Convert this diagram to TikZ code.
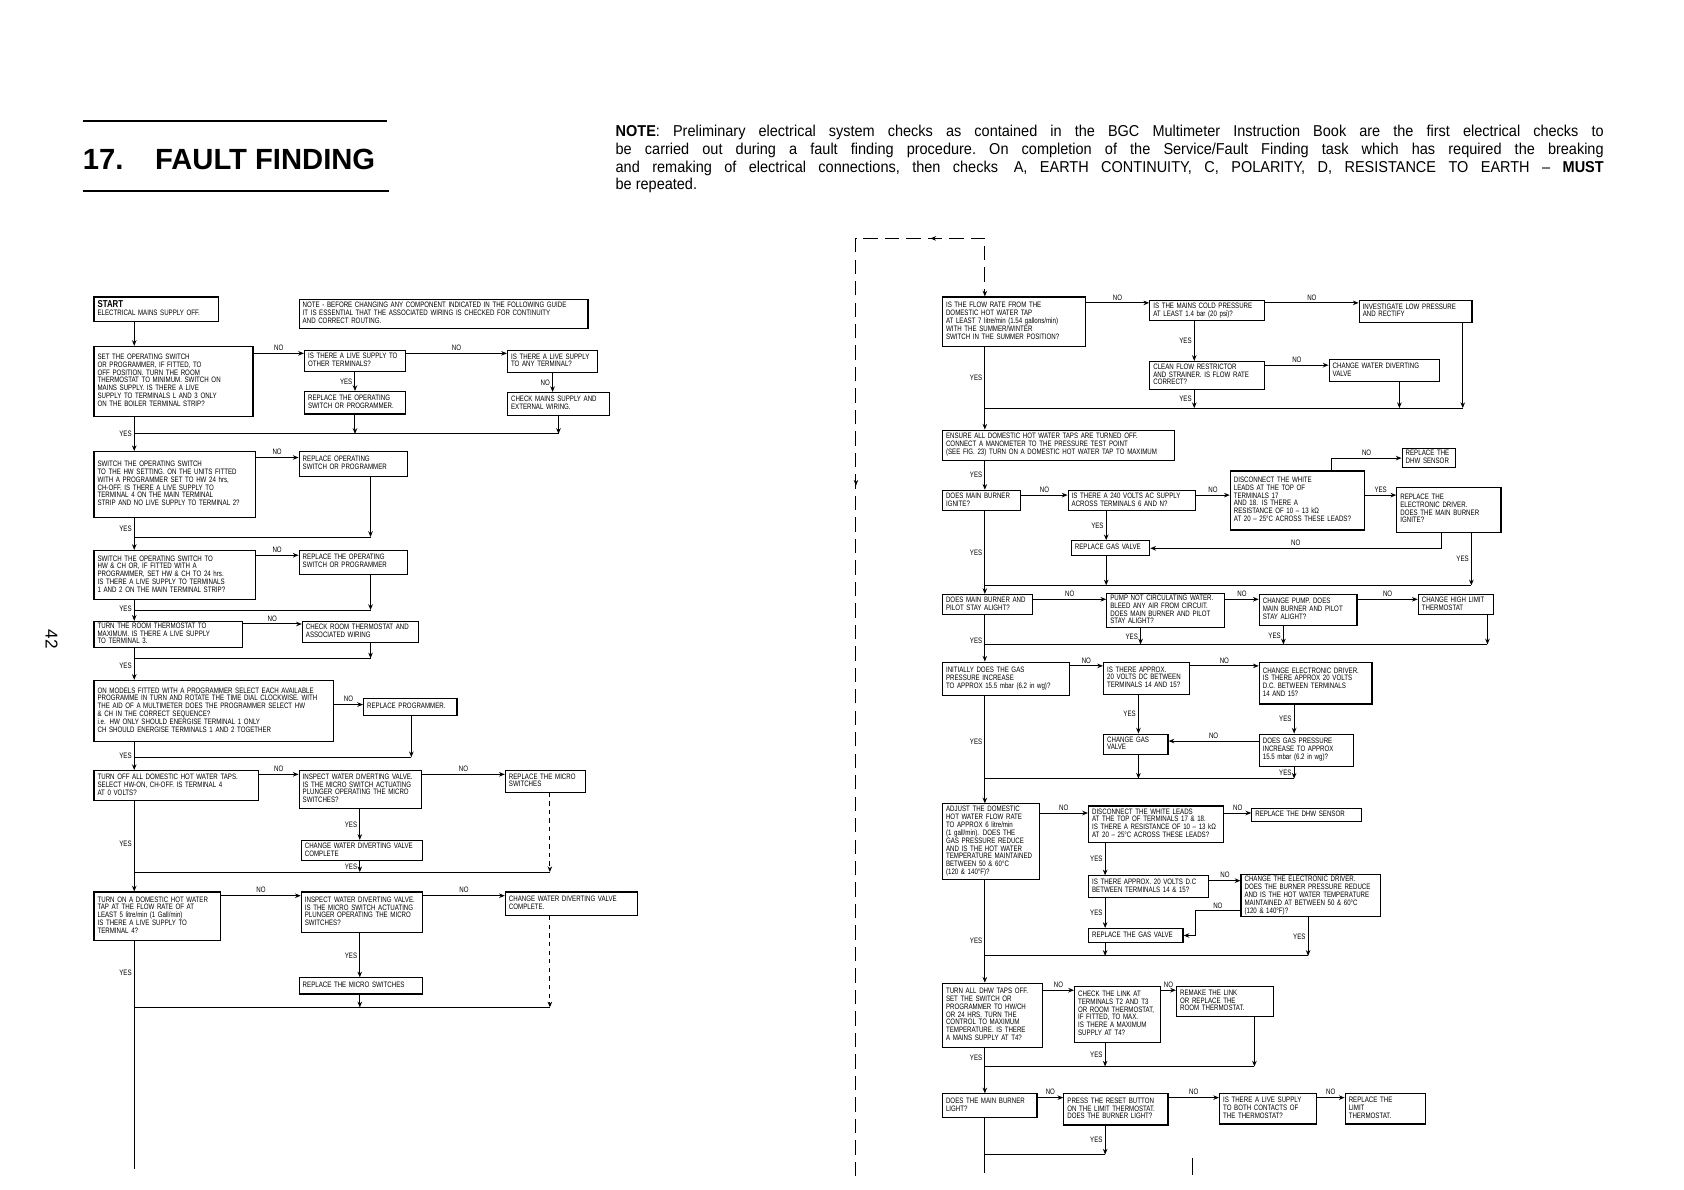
\documentclass[tikz,border=0pt]{standalone}
\usepackage{fontspec}
\setmainfont{Liberation Sans}
\newfontfamily\condfont[FakeStretch=0.78]{Liberation Sans}
\newfontfamily\notefamily[FakeStretch=0.92]{Liberation Sans}
\usetikzlibrary{arrows.meta, decorations.markings}
\newdimen\gpx
\gpx=0.75pt
\newcommand{\boxfont}{\condfont\fontsize{5.5}{5.3}\selectfont}
\newcommand{\tb}[1]{\begin{tabular}{@{\hspace{2.5pt}}l@{}}#1\end{tabular}}

\begin{document}
\begin{tikzpicture}[
    x=0.75pt, y=-0.75pt,
    >={Stealth[length=4pt, width=3.2pt]},
    qbox/.style={draw, line width=0.8pt, anchor=north west, align=left, font=\boxfont, inner xsep=0pt, inner ysep=1pt},
    sz/.style 2 args={text width=#1\gpx, minimum height=#2\gpx},
    lbl/.style={font=\boxfont, inner sep=1.5pt},
    flow/.style={line width=0.7pt, ->},
    wire/.style={line width=0.7pt},
]
    \useasboundingbox (0,0) rectangle (1568,1108);

    % heading
    \node[anchor=base west, inner sep=0, font=\bfseries\fontsize{20.4}{24}\selectfont] (title) at (77,158) {17.\hspace{22pt}FAULT FINDING};
    \draw[line width=1.3pt] (77,113) -- (360,113);
    \draw[line width=1.3pt] (77,178) -- (362,178);
    \node[anchor=north west, inner sep=0, text width=690pt, align=justify, font=\notefamily\fontsize{11}{12.5}\selectfont\frenchspacing] (note) at (573,116) {
        \textbf{NOTE}: Preliminary electrical system checks as contained in the BGC Multimeter Instruction Book are the first electrical checks to\linebreak
        be carried out during a fault finding procedure. On completion of the Service/Fault Finding task which has required the breaking\linebreak
        and remaking of electrical connections, then checks\quad A, EARTH CONTINUITY, C, POLARITY, D, RESISTANCE TO EARTH – \textbf{MUST}\linebreak
        be repeated.};
    \node[rotate=-90, font=\fontsize{12}{12}\selectfont] (pagenum) at (48,595) {42};

    % left page
    \node[qbox, sz={116}{23}] (L1) at (87,276) {\tb{\textbf{\fontsize{7}{7}\selectfont START}\\ELECTRICAL MAINS SUPPLY OFF.}};
    \node[qbox, sz={269}{27}] (Lnote) at (278,278) {\tb{NOTE - BEFORE CHANGING ANY COMPONENT INDICATED IN THE FOLLOWING GUIDE\\IT IS ESSENTIAL THAT THE ASSOCIATED WIRING IS CHECKED FOR CONTINUITY\\AND CORRECT ROUTING.}};
    \node[qbox, sz={148}{65}] (L2) at (87,322) {\tb{SET THE OPERATING SWITCH\\OR PROGRAMMER, IF FITTED, TO\\OFF POSITION. TURN THE ROOM\\THERMOSTAT TO MINIMUM. SWITCH ON\\MAINS SUPPLY. IS THERE A LIVE\\SUPPLY TO TERMINALS L AND 3 ONLY\\ON THE BOILER TERMINAL STRIP?}};
    \node[qbox, sz={94}{19}] (L3) at (283,326) {\tb{IS THERE A LIVE SUPPLY TO\\OTHER TERMINALS?}};
    \node[qbox, sz={84}{20}] (L4) at (472,326) {\tb{IS THERE A LIVE SUPPLY\\TO ANY TERMINAL?}};
    \node[qbox, sz={94}{21}] (L5) at (283,364) {\tb{REPLACE THE OPERATING\\SWITCH OR PROGRAMMER.}};
    \node[qbox, sz={95}{21}] (L6) at (472,365) {\tb{CHECK MAINS SUPPLY AND\\EXTERNAL WIRING.}};
    \node[qbox, sz={150}{61}] (L7) at (87,420) {\tb{SWITCH THE OPERATING SWITCH\\TO THE HW SETTING. ON THE UNITS FITTED\\WITH A PROGRAMMER SET TO HW 24 hrs,\\CH-OFF. IS THERE A LIVE SUPPLY TO\\TERMINAL 4 ON THE MAIN TERMINAL\\STRIP AND NO LIVE SUPPLY TO TERMINAL 2?}};
    \node[qbox, sz={101}{23}] (L8) at (278,420) {\tb{REPLACE OPERATING\\SWITCH OR PROGRAMMER}};
    \node[qbox, sz={150}{46}] (L9) at (87,512) {\tb{SWITCH THE OPERATING SWITCH TO\\HW \& CH OR, IF FITTED WITH A\\PROGRAMMER, SET HW \& CH TO 24 hrs.\\IS THERE A LIVE SUPPLY TO TERMINALS\\1 AND 2 ON THE MAIN TERMINAL STRIP?}};
    \node[qbox, sz={101}{22}] (L10) at (278,512) {\tb{REPLACE THE OPERATING\\SWITCH OR PROGRAMMER}};
    \node[qbox, sz={138}{24}] (L11) at (87,578) {\tb{TURN THE ROOM THERMOSTAT TO\\MAXIMUM. IS THERE A LIVE SUPPLY\\TO TERMINAL 3.}};
    \node[qbox, sz={108}{20}] (L12) at (281,578) {\tb{CHECK ROOM THERMOSTAT AND\\ASSOCIATED WIRING}};
    \node[qbox, sz={223}{57}] (L13) at (87,633) {\tb{ON MODELS FITTED WITH A PROGRAMMER SELECT EACH AVAILABLE\\PROGRAMME IN TURN AND ROTATE THE TIME DIAL CLOCKWISE. WITH\\THE AID OF A MULTIMETER DOES THE PROGRAMMER SELECT HW\\\& CH IN THE CORRECT SEQUENCE?\\i.e. HW ONLY SHOULD ENERGISE TERMINAL 1 ONLY\\CH SHOULD ENERGISE TERMINALS 1 AND 2 TOGETHER}};
    \node[qbox, sz={87}{16}] (L14) at (338,650) {\tb{REPLACE PROGRAMMER.}};
    \node[qbox, sz={153}{28}] (L15) at (87,717) {\tb{TURN OFF ALL DOMESTIC HOT WATER TAPS.\\SELECT HW-ON, CH-OFF. IS TERMINAL 4\\AT 0 VOLTS?}};
    \node[qbox, sz={114}{35}] (L16) at (278,717) {\tb{INSPECT WATER DIVERTING VALVE.\\IS THE MICRO SWITCH ACTUATING\\PLUNGER OPERATING THE MICRO\\SWITCHES?}};
    \node[qbox, sz={75}{20}] (L17) at (470,717) {\tb{REPLACE THE MICRO\\SWITCHES}};
    \node[qbox, sz={113}{19}] (L18) at (280,782) {\tb{CHANGE WATER DIVERTING VALVE\\COMPLETE}};
    \node[qbox, sz={118}{45}] (L19) at (87,830) {\tb{TURN ON A DOMESTIC HOT WATER\\TAP AT THE FLOW RATE OF AT\\LEAST 5 litre/min (1 Gall/min)\\IS THERE A LIVE SUPPLY TO\\TERMINAL 4?}};
    \node[qbox, sz={113}{38}] (L20) at (280,830) {\tb{INSPECT WATER DIVERTING VALVE.\\IS THE MICRO SWITCH ACTUATING\\PLUNGER OPERATING THE MICRO\\SWITCHES?}};
    \node[qbox, sz={123}{22}] (L21) at (470,830) {\tb{CHANGE WATER DIVERTING VALVE\\COMPLETE.}};
    \node[qbox, sz={115}{15}] (L22) at (278,910) {\tb{REPLACE THE MICRO SWITCHES}};

    \coordinate (spL) at (125,0);
    \coordinate (dL) at (345,0);
    \coordinate (xL14) at (383,0);
    \coordinate (xM) at (335,0);
    \coordinate (xD) at (512,0);
    \coordinate (rA) at (0,329);
    \coordinate (rB) at (0,426);
    \coordinate (rC) at (0,517);
    \coordinate (rD) at (0,581);
    \coordinate (rE) at (0,656);
    \coordinate (rF) at (0,721);
    \coordinate (rG) at (0,834);
    \coordinate (m1) at (0,404);
    \coordinate (m2) at (0,500);
    \coordinate (m3) at (0,568);
    \coordinate (m4) at (0,613);
    \coordinate (m5) at (0,705);
    \coordinate (m6) at (0,812);
    \coordinate (m7) at (0,938);
    \coordinate (endL) at (0,1088);

    \draw[flow] (L1.south -| spL) -- (L2.north -| spL);
    \draw[flow] (L2.east |- rA) -- node[lbl,above]{NO} (L3.west |- rA);
    \draw[flow] (L3.east |- rA) -- node[lbl,above]{NO} (L4.west |- rA);
    \draw[flow] (L3.south) -- node[lbl,left]{YES} (L3.south |- L5.north);
    \draw[flow] (L4.south) -- node[lbl,left]{NO} (L4.south |- L6.north);
    \draw[flow] (L2.south -| spL) -- node[lbl,left]{YES} (L7.north -| spL);
    \draw[wire] (spL |- m1) -- (L6.south |- m1);
    \draw[flow] (L5.south) -- (L5.south |- m1);
    \draw[flow] (L6.south) -- (L6.south |- m1);

    \draw[flow] (L7.east |- rB) -- node[lbl,above]{NO} (L8.west |- rB);
    \draw[flow] (L8.south -| dL) -- (dL |- m2);
    \draw[wire] (dL |- m2) -- (spL |- m2);
    \draw[flow] (L7.south -| spL) -- node[lbl,left,pos=0.35]{YES} (L9.north -| spL);

    \draw[flow] (L9.east |- rC) -- node[lbl,above]{NO} (L10.west |- rC);
    \draw[flow] (L10.south -| dL) -- (dL |- m3);
    \draw[wire] (dL |- m3) -- (spL |- m3);
    \draw[flow] (L9.south -| spL) -- node[lbl,left,pos=0.4]{YES} (L11.north -| spL);

    \draw[flow] (L11.east |- rD) -- node[lbl,above]{NO} (L12.west |- rD);
    \draw[flow] (L12.south -| dL) -- (dL |- m4);
    \draw[wire] (dL |- m4) -- (spL |- m4);
    \draw[flow] (L11.south -| spL) -- node[lbl,left,pos=0.55]{YES} (L13.north -| spL);

    \draw[flow] (L13.east |- rE) -- node[lbl,above]{NO} (L14.west |- rE);
    \draw[flow] (L14.south -| xL14) -- (xL14 |- m5);
    \draw[wire] (xL14 |- m5) -- (spL |- m5);
    \draw[flow] (L13.south -| spL) -- node[lbl,left]{YES} (L15.north -| spL);

    \draw[flow] (L15.east |- rF) -- node[lbl,above]{NO} (L16.west |- rF);
    \draw[flow] (L16.east |- rF) -- node[lbl,above]{NO} (L17.west |- rF);
    \draw[flow] (L16.south -| xM) -- node[lbl,left]{YES} (L18.north -| xM);
    \draw[flow] (L18.south -| xM) -- node[lbl,left]{YES} (xM |- m6);
    \draw[flow, dashed] (L17.south -| xD) -- (xD |- m6);
    \draw[wire] (spL |- m6) -- (xD |- m6);
    \draw[flow] (L15.south -| spL) -- node[lbl,left,pos=0.47]{YES} (L19.north -| spL);

    \draw[flow] (L19.east |- rG) -- node[lbl,above]{NO} (L20.west |- rG);
    \draw[flow] (L20.east |- rG) -- node[lbl,above]{NO} (L21.west |- rG);
    \draw[flow] (L20.south -| xM) -- node[lbl,left]{YES} (L22.north -| xM);
    \draw[flow] (L22.south -| xM) -- (xM |- m7);
    \draw[flow, dashed] (L21.south -| xD) -- (xD |- m7);
    \draw[wire] (spL |- m7) -- (xD |- m7);
    \draw[wire] (L19.south -| spL) -- node[lbl,left,pos=0.14]{YES} (spL |- endL);

    % right page
    \node[qbox, sz={133}{46}] (R1) at (877,276) {\tb{IS THE FLOW RATE FROM THE\\DOMESTIC HOT WATER TAP\\AT LEAST 7 litre/min (1.54 gallons/min)\\WITH THE SUMMER/WINTER\\SWITCH IN THE SUMMER POSITION?}};
    \node[qbox, sz={107}{19}] (R2) at (1070,279) {\tb{IS THE MAINS COLD PRESSURE\\AT LEAST 1.4 bar (20 psi)?}};
    \node[qbox, sz={105}{21}] (R3) at (1265,279) {\tb{INVESTIGATE LOW PRESSURE\\AND RECTIFY}};
    \node[qbox, sz={107}{26}] (R4) at (1070,336) {\tb{CLEAN FLOW RESTRICTOR\\AND STRAINER. IS FLOW RATE\\CORRECT?}};
    \node[qbox, sz={103}{21}] (R5) at (1237,334) {\tb{CHANGE WATER DIVERTING\\VALVE}};
    \node[qbox, sz={216}{28}] (R6) at (877,400) {\tb{ENSURE ALL DOMESTIC HOT WATER TAPS ARE TURNED OFF.\\CONNECT A MANOMETER TO THE PRESSURE TEST POINT\\(SEE FIG. 23) TURN ON A DOMESTIC HOT WATER TAP TO MAXIMUM}};
    \node[qbox, sz={73}{19}] (R7) at (877,456) {\tb{DOES MAIN BURNER\\IGNITE?}};
    \node[qbox, sz={119}{19}] (R8) at (994,456) {\tb{IS THERE A 240 VOLTS AC SUPPLY\\ACROSS TERMINALS 6 AND N?}};
    \node[qbox, sz={125}{55}] (R9) at (1145,438) {\tb{DISCONNECT THE WHITE\\LEADS AT THE TOP OF\\TERMINALS 17\\AND 18. IS THERE A\\RESISTANCE OF 10 – 13 kΩ\\AT 20 – 25°C ACROSS THESE LEADS?}};
    \node[qbox, sz={50}{18}] (R10) at (1305,417) {\tb{REPLACE THE\\DHW SENSOR}};
    \node[qbox, sz={97}{42}] (R11) at (1300,453) {\tb{REPLACE THE\\ELECTRONIC DRIVER.\\DOES THE MAIN BURNER\\IGNITE?}};
    \node[qbox, sz={73}{14}] (R12) at (997,503) {\tb{REPLACE GAS VALVE}};
    \node[qbox, sz={84}{19}] (R13) at (877,553) {\tb{DOES MAIN BURNER AND\\PILOT STAY ALIGHT?}};
    \node[qbox, sz={110}{32}] (R14) at (1030,552) {\tb{PUMP NOT CIRCULATING WATER.\\BLEED ANY AIR FROM CIRCUIT.\\DOES MAIN BURNER AND PILOT\\STAY ALIGHT?}};
    \node[qbox, sz={91}{29}] (R15) at (1172,553) {\tb{CHANGE PUMP. DOES\\MAIN BURNER AND PILOT\\STAY ALIGHT?}};
    \node[qbox, sz={70}{19}] (R16) at (1320,553) {\tb{CHANGE HIGH LIMIT\\THERMOSTAT}};
    \node[qbox, sz={118}{31}] (R17) at (877,616) {\tb{INITIALLY DOES THE GAS\\PRESSURE INCREASE\\TO APPROX 15.5 mbar (6.2 in wg)?}};
    \node[qbox, sz={80}{30}] (R18) at (1027,616) {\tb{IS THERE APPROX.\\20 VOLTS DC BETWEEN\\TERMINALS 14 AND 15?}};
    \node[qbox, sz={105}{39}] (R19) at (1172,616) {\tb{CHANGE ELECTRONIC DRIVER.\\IS THERE APPROX 20 VOLTS\\D.C. BETWEEN TERMINALS\\14 AND 15?}};
    \node[qbox, sz={60}{19}] (R20) at (1027,683) {\tb{CHANGE GAS\\VALVE}};
    \node[qbox, sz={88}{30}] (R21) at (1172,683) {\tb{DOES GAS PRESSURE\\INCREASE TO APPROX\\15.5 mbar (6.2 in wg)?}};
    \node[qbox, sz={90}{70}] (R22) at (877,748) {\tb{ADJUST THE DOMESTIC\\HOT WATER FLOW RATE\\TO APPROX 6 litre/min\\(1 gall/min). DOES THE\\GAS PRESSURE REDUCE\\AND IS THE HOT WATER\\TEMPERATURE MAINTAINED\\BETWEEN 50 \& 60°C\\(120 \& 140°F)?}};
    \node[qbox, sz={126}{34}] (R23) at (1013,750) {\tb{DISCONNECT THE WHITE LEADS\\AT THE TOP OF TERMINALS 17 \& 18.\\IS THERE A RESISTANCE OF 10 – 13 kΩ\\AT 20 – 25°C ACROSS THESE LEADS?}};
    \node[qbox, sz={102}{12}] (R24) at (1165,752) {\tb{REPLACE THE DHW SENSOR}};
    \node[qbox, sz={112}{20}] (R25) at (1013,815) {\tb{IS THERE APPROX. 20 VOLTS D.C\\BETWEEN TERMINALS 14 \& 15?}};
    \node[qbox, sz={130}{36}] (R26) at (1155,814) {\tb{CHANGE THE ELECTRONIC DRIVER.\\DOES THE BURNER PRESSURE REDUCE\\AND IS THE HOT WATER TEMPERATURE\\MAINTAINED AT BETWEEN 50 \& 60°C\\(120 \& 140°F)?}};
    \node[qbox, sz={88}{13}] (R27) at (1013,864) {\tb{REPLACE THE GAS VALVE}};
    \node[qbox, sz={93}{60}] (R28) at (877,915) {\tb{TURN ALL DHW TAPS OFF.\\SET THE SWITCH OR\\PROGRAMMER TO HW/CH\\OR 24 HRS. TURN THE\\CONTROL TO MAXIMUM\\TEMPERATURE. IS THERE\\A MAINS SUPPLY AT T4?}};
    \node[qbox, sz={80}{52}] (R29) at (1000,918) {\tb{CHECK THE LINK AT\\TERMINALS T2 AND T3\\OR ROOM THERMOSTAT,\\IF FITTED, TO MAX.\\IS THERE A MAXIMUM\\SUPPLY AT T4?}};
    \node[qbox, sz={90}{28}] (R30) at (1095,918) {\tb{REMAKE THE LINK\\OR REPLACE THE\\ROOM THERMOSTAT.}};
    \node[qbox, sz={88}{22}] (R31) at (877,1018) {\tb{DOES THE MAIN BURNER\\LIGHT?}};
    \node[qbox, sz={97}{29}] (R32) at (990,1018) {\tb{PRESS THE RESET BUTTON\\ON THE LIMIT THERMOSTAT.\\DOES THE BURNER LIGHT?}};
    \node[qbox, sz={90}{28}] (R33) at (1135,1018) {\tb{IS THERE A LIVE SUPPLY\\TO BOTH CONTACTS OF\\THE THERMOSTAT?}};
    \node[qbox, sz={75}{28}] (R34) at (1252,1018) {\tb{REPLACE THE\\LIMIT\\THERMOSTAT.}};

    \coordinate (spR) at (917,0);
    \coordinate (inB) at (797,1095);
    \coordinate (inT) at (797,222);
    \coordinate (xR2) at (1112,0);
    \coordinate (xR3) at (1362,0);
    \coordinate (xR5) at (1303,0);
    \coordinate (xR8) at (1030,0);
    \coordinate (xR9) at (1240,0);
    \coordinate (xR11a) at (1342,0);
    \coordinate (xR11b) at (1370,0);
    \coordinate (xR14) at (1062,0);
    \coordinate (xR15) at (1195,0);
    \coordinate (xR16) at (1385,0);
    \coordinate (xR18) at (1060,0);
    \coordinate (xR19) at (1205,0);
    \coordinate (xR23) at (1029,0);
    \coordinate (xR26) at (1218,0);
    \coordinate (xR30) at (1168,0);
    \coordinate (kR) at (1113,848);
    \coordinate (rH) at (0,282);
    \coordinate (rI) at (0,340);
    \coordinate (rJ) at (0,461);
    \coordinate (rL) at (0,558);
    \coordinate (rM) at (0,620);
    \coordinate (rN) at (0,690);
    \coordinate (rO) at (0,757);
    \coordinate (rP) at (0,820);
    \coordinate (rQ) at (0,922);
    \coordinate (rR) at (0,1022);
    \coordinate (n1) at (0,380);
    \coordinate (n2) at (0,545);
    \coordinate (n3) at (0,600);
    \coordinate (n4) at (0,725);
    \coordinate (n5) at (0,890);
    \coordinate (n6) at (0,993);
    \coordinate (n7) at (0,1075);
    \coordinate (endR) at (0,1092);
    \coordinate (stubT) at (1110,1078);
    \coordinate (stubB) at (1110,1094);

    \draw[flow, dash pattern=on 10pt off 5pt,
        postaction={decorate, decoration={markings, mark=at position 0.614 with {\arrowreversed{>}}, mark=at position 0.9 with {\arrowreversed{>}}}}]
        (inB) -- (inT) -- (inT -| spR) -- (R1.north -| spR);

    \draw[flow] (R1.east |- rH) -- node[lbl,above]{NO} (R2.west |- rH);
    \draw[flow] (R2.east |- rH) -- node[lbl,above]{NO} (R3.west |- rH);
    \draw[flow] (R2.south -| xR2) -- node[lbl,left]{YES} (R4.north -| xR2);
    \draw[flow] (R4.east |- rI) -- node[lbl,above]{NO} (R5.west |- rI);
    \draw[flow] (R4.south -| xR2) -- node[lbl,left]{YES} (xR2 |- n1);
    \draw[flow] (R5.south -| xR5) -- (xR5 |- n1);
    \draw[flow] (R3.south -| xR3) -- (xR3 |- n1);
    \draw[wire] (spR |- n1) -- (xR3 |- n1);
    \draw[flow] (R1.south -| spR) -- node[lbl,left,pos=0.37]{YES} (R6.north -| spR);

    \draw[flow] (R6.south -| spR) -- node[lbl,left]{YES} (R7.north -| spR);
    \draw[flow] (R7.east |- rJ) -- node[lbl,above]{NO} (R8.west |- rJ);
    \draw[flow] (R8.east |- rJ) -- node[lbl,above]{NO} (R9.west |- rJ);
    \draw[flow] (R9.east |- rJ) -- node[lbl,above]{YES} (R11.west |- rJ);
    \draw[flow] (R9.north -| xR9) |- node[lbl,above,pos=0.75]{NO} (R10.west);
    \draw[flow] (R8.south -| xR8) -- node[lbl,left]{YES} (R12.north -| xR8);
    \draw[flow] (R11.south -| xR11a) |- node[lbl,above,pos=0.75]{NO} (R12.east);
    \draw[flow] (R11.south -| xR11b) -- node[lbl,left]{YES} (xR11b |- n2);
    \draw[flow] (R12.south -| xR8) -- (xR8 |- n2);
    \draw[wire] (spR |- n2) -- (xR11b |- n2);
    \draw[flow] (R7.south -| spR) -- node[lbl,left]{YES} (R13.north -| spR);

    \draw[flow] (R13.east |- rL) -- node[lbl,above]{NO} (R14.west |- rL);
    \draw[flow] (R14.east |- rL) -- node[lbl,above]{NO} (R15.west |- rL);
    \draw[flow] (R15.east |- rL) -- node[lbl,above]{NO} (R16.west |- rL);
    \draw[flow] (R14.south -| xR14) -- node[lbl,left]{YES} (xR14 |- n3);
    \draw[flow] (R15.south -| xR15) -- node[lbl,left]{YES} (xR15 |- n3);
    \draw[flow] (R16.south -| xR16) -- (xR16 |- n3);
    \draw[wire] (spR |- n3) -- (xR16 |- n3);
    \draw[flow] (R13.south -| spR) -- node[lbl,left,pos=0.55]{YES} (R17.north -| spR);

    \draw[flow] (R17.east |- rM) -- node[lbl,above]{NO} (R18.west |- rM);
    \draw[flow] (R18.east |- rM) -- node[lbl,above]{NO} (R19.west |- rM);
    \draw[flow] (R18.south -| xR18) -- node[lbl,left]{YES} (R20.north -| xR18);
    \draw[flow] (R19.south -| xR19) -- node[lbl,left]{YES} (R21.north -| xR19);
    \draw[flow] (R21.west |- rN) -- node[lbl,above]{NO} (R20.east |- rN);
    \draw[flow] (R20.south -| xR18) -- (xR18 |- n4);
    \draw[flow] (R21.south -| xR19) -- node[lbl,left]{YES} (xR19 |- n4);
    \draw[wire] (spR |- n4) -- (xR19 |- n4);
    \draw[flow] (R17.south -| spR) -- node[lbl,left,pos=0.43]{YES} (R22.north -| spR);

    \draw[flow] (R22.east |- rO) -- node[lbl,above]{NO} (R23.west |- rO);
    \draw[flow] (R23.east |- rO) -- node[lbl,above]{NO} (R24.west |- rO);
    \draw[flow] (R23.south -| xR23) -- node[lbl,left]{YES} (R25.north -| xR23);
    \draw[flow] (R25.east |- rP) -- node[lbl,above]{NO} (R26.west |- rP);
    \draw[flow] (R25.south -| xR23) -- node[lbl,left]{YES} (R27.north -| xR23);
    \draw[flow] (R26.west |- kR) -- node[lbl,above]{NO} (kR) |- (R27.east);
    \draw[flow] (R26.south -| xR26) -- node[lbl,left]{YES} (xR26 |- n5);
    \draw[flow] (R27.south -| xR23) -- (xR23 |- n5);
    \draw[wire] (spR |- n5) -- (xR26 |- n5);
    \draw[flow] (R22.south -| spR) -- node[lbl,left,pos=0.59]{YES} (R28.north -| spR);

    \draw[flow] (R28.east |- rQ) -- node[lbl,above]{NO} (R29.west |- rQ);
    \draw[flow] (R29.east |- rQ) -- node[lbl,above]{NO} (R30.west |- rQ);
    \draw[flow] (R29.south -| xR23) -- node[lbl,left]{YES} (xR23 |- n6);
    \draw[flow] (R30.south -| xR30) -- (xR30 |- n6);
    \draw[wire] (spR |- n6) -- (xR30 |- n6);
    \draw[flow] (R28.south -| spR) -- node[lbl,left,pos=0.2]{YES} (R31.north -| spR);

    \draw[flow] (R31.east |- rR) -- node[lbl,above]{NO} (R32.west |- rR);
    \draw[flow] (R32.east |- rR) -- node[lbl,above]{NO} (R33.west |- rR);
    \draw[flow] (R33.east |- rR) -- node[lbl,above]{NO} (R34.west |- rR);
    \draw[flow] (R32.south -| xR23) -- node[lbl,left]{YES} (xR23 |- n7);
    \draw[wire] (spR |- n7) -- (xR23 |- n7);
    \draw[wire] (R31.south -| spR) -- (spR |- endR);
    \draw[wire] (stubT) -- (stubB);
\end{tikzpicture}
\end{document}
